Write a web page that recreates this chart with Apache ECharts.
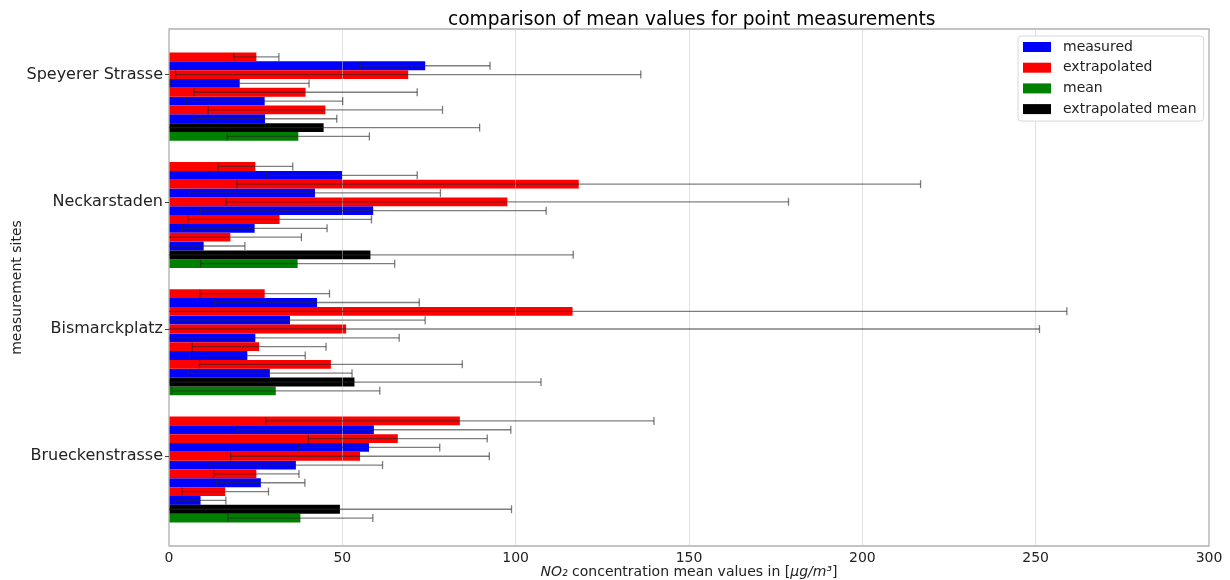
<!DOCTYPE html>
<html><head><meta charset="utf-8">
<script src="https://cdn.jsdelivr.net/npm/echarts@6/dist/echarts.min.js"></script>
<style>html,body{margin:0;padding:0;background:#fff}#c{width:1230px;height:580px}</style>
</head><body><div id="c"></div>
<script>
// ---- data (top-to-bottom order inside each site) ----
const sites = ['Speyerer Strasse', 'Neckarstaden', 'Bismarckplatz', 'Brueckenstrasse'];
const xTicks = [0, 50, 100, 150, 200, 250, 300];

const speyererExtrapolated    = [25.2, 69.0, 39.4, 45.1];
const speyererExtrapolatedErr = [6.5, 67.1, 32.2, 33.8];
const speyererMeasured        = [73.9, 20.4, 27.6, 27.7];
const speyererMeasuredErr     = [18.7, 20.0, 22.5, 20.7];

const neckarExtrapolated    = [24.9, 118.2, 97.6, 31.9, 17.7];
const neckarExtrapolatedErr = [10.8, 98.6, 81.1, 26.5, 20.5];
const neckarMeasured        = [49.9, 42.1, 58.9, 24.7, 10.0];
const neckarMeasuredErr     = [21.7, 36.2, 49.9, 20.9, 11.9];

const bismarckExtrapolated    = [27.6, 116.4, 51.1, 26.0, 46.7];
const bismarckExtrapolatedErr = [18.7, 142.6, 200.0, 19.3, 37.9];
const bismarckMeasured        = [42.7, 34.9, 24.9, 22.6, 29.1];
const bismarckMeasuredErr     = [29.5, 39.0, 41.5, 16.7, 23.7];

const brueckenExtrapolated    = [83.9, 66.0, 55.1, 25.2, 16.2];
const brueckenExtrapolatedErr = [56.0, 25.8, 37.3, 12.3, 12.5];
const brueckenMeasured        = [59.1, 57.7, 36.6, 26.5, 9.1];
const brueckenMeasuredErr     = [39.5, 20.4, 25.0, 12.7, 7.3];

const meanValues          = [37.3, 37.1, 30.8, 37.9];
const meanErr             = [20.5, 28.0, 30.0, 20.9];
const extrapolatedMean    = [44.6, 58.1, 53.5, 49.3];
const extrapolatedMeanErr = [45.0, 58.5, 53.8, 49.5];

// ---- layout (slot units on a value axis) ----
const P = 14.4;          // group period
const SLOTS = 12;        // slots per group
const extrap = [speyererExtrapolated, neckarExtrapolated, bismarckExtrapolated, brueckenExtrapolated];
const extrapErr = [speyererExtrapolatedErr, neckarExtrapolatedErr, bismarckExtrapolatedErr, brueckenExtrapolatedErr];
const meas = [speyererMeasured, neckarMeasured, bismarckMeasured, brueckenMeasured];
const measErr = [speyererMeasuredErr, neckarMeasuredErr, bismarckMeasuredErr, brueckenMeasuredErr];

function slotY(g, k) { return g * P + k - 4; } // centre of slot k (0 = top) of group g; tick at g*P

const redData = [], blueData = [], greenData = [], blackData = [], errData = [];
sites.forEach((s, g) => {
  const n = extrap[g].length;
  const first = (SLOTS - 2) - 2 * n;
  for (let i = 0; i < n; i++) {
    const yr = slotY(g, first + 2 * i), yb = slotY(g, first + 2 * i + 1);
    redData.push([extrap[g][i], yr]);
    errData.push([extrap[g][i], yr, extrapErr[g][i]]);
    blueData.push([meas[g][i], yb]);
    errData.push([meas[g][i], yb, measErr[g][i]]);
  }
  const yk = slotY(g, 10), yg = slotY(g, 11);
  blackData.push([extrapolatedMean[g], yk]);
  errData.push([extrapolatedMean[g], yk, extrapolatedMeanErr[g]]);
  greenData.push([meanValues[g], yg]);
  errData.push([meanValues[g], yg, meanErr[g]]);
});
const dataTop = slotY(0, (SLOTS - 2) - 2 * extrap[0].length) - 0.5;
const dataBottom = slotY(sites.length - 1, 11) + 0.5;
const margin = 0.05 * (dataBottom - dataTop);
const yMin = dataTop - margin, yMax = dataBottom + margin;
const XMIN = xTicks[0], XMAX = xTicks[xTicks.length - 1];

function barRender(params, api) {
  const v = api.value(0), y = api.value(1);
  const a = api.coord([0, y]), b = api.coord([v, y]);
  const h = api.size([0, 1])[1];
  return { type: 'rect', shape: { x: a[0], y: a[1] - h / 2, width: b[0] - a[0], height: h },
           style: { fill: api.visual('color') } };
}
function errRender(params, api) {
  const c = api.value(0), y = api.value(1), e = api.value(2);
  const lo = Math.max(XMIN, c - e), hi = Math.min(XMAX, c + e);
  const p1 = api.coord([lo, y]), p2 = api.coord([hi, y]);
  const st = { stroke: 'rgba(40,40,40,0.6)', lineWidth: 1.3 };
  const ch = [{ type: 'line', shape: { x1: p1[0], y1: p1[1], x2: p2[0], y2: p2[1] }, style: st }];
  const cap = 4;
  if (c - e >= XMIN) ch.push({ type: 'line', shape: { x1: p1[0], y1: p1[1] - cap, x2: p1[0], y2: p1[1] + cap }, style: st });
  if (c + e <= XMAX) ch.push({ type: 'line', shape: { x1: p2[0], y1: p2[1] - cap, x2: p2[0], y2: p2[1] + cap }, style: st });
  return { type: 'group', children: ch };
}
function barSeries(name, color, data) {
  return { type: 'custom', name, data, encode: { x: 0, y: 1 }, renderItem: barRender,
           itemStyle: { color }, z: 2, animation: false };
}

const font = 'DejaVu Sans';
const chart = echarts.init(document.getElementById('c'), null, { renderer: 'canvas' });
chart.setOption({
  animation: false,
  backgroundColor: '#fff',
  textStyle: { fontFamily: font },
  title: { text: 'comparison of mean values for point measurements', left: 443, top: 6,
           textStyle: { fontFamily: font, fontSize: 18.6, fontWeight: 'normal', color: '#000' } },
  legend: {
    orient: 'vertical', left: 1018, top: 36, padding: [4, 7, 5, 5], z: 5,
    data: ['measured', 'extrapolated', 'mean', 'extrapolated mean'],
    itemWidth: 28, itemHeight: 10, itemGap: 6.7, icon: 'rect',
    backgroundColor: 'rgba(255,255,255,0.85)', borderColor: '#d8d8d8', borderWidth: 1, borderRadius: 3,
    textStyle: { fontFamily: font, fontSize: 14, color: '#222', lineHeight: 14, padding: [0, 0, 0, 7] }
  },
  grid: { left: 169, top: 29, width: 1040, height: 517, show: true, borderColor: '#b0b0b0', borderWidth: 1.3,
          containLabel: false, outerBoundsMode: 'none' },
  xAxis: {
    type: 'value', min: XMIN, max: XMAX, interval: 50, z: 2.5,
    axisLine: { show: false }, axisTick: { show: false },
    splitLine: { show: true, lineStyle: { color: 'rgba(200,200,200,0.55)', width: 1 } },
    axisLabel: { fontFamily: font, fontSize: 14, color: '#222', margin: 5 },
    name: '{i|NO₂} concentration mean values in [{i|μg/m³}]', nameLocation: 'middle', nameGap: 19,
    nameMoveOverlap: false,
    nameTextStyle: { fontFamily: font, fontSize: 14, color: '#222', rich: { i: { fontStyle: 'italic', fontFamily: font, fontSize: 14 } } }
  },
  yAxis: {
    type: 'value', inverse: true, min: yMin, max: yMax, interval: P,
    axisLine: { show: false },
    axisTick: { show: true, length: 4, lineStyle: { color: '#444' }, customValues: sites.map((s, g) => g * P) },
    splitLine: { show: false },
    axisLabel: {
      fontFamily: font, fontSize: 16, color: '#222', margin: 6,
      customValues: sites.map((s, g) => g * P),
      formatter: function (v) {
        const g = Math.round(v / P);
        return (Math.abs(v - g * P) < 0.3 && g >= 0 && g < sites.length) ? sites[g] : '';
      }
    },
    name: 'measurement sites', nameLocation: 'middle', nameGap: 145, nameRotate: 90,
    nameMoveOverlap: false,
    nameTextStyle: { fontFamily: font, fontSize: 14, color: '#222' }
  },
  series: [
    barSeries('measured', '#0000ff', blueData),
    barSeries('extrapolated', '#ff0000', redData),
    barSeries('mean', '#008000', greenData),
    barSeries('extrapolated mean', '#000000', blackData),
    { type: 'custom', name: 'err', data: errData, encode: { x: 0, y: 1 }, renderItem: errRender, z: 3, silent: true }
  ]
});
</script></body></html>
